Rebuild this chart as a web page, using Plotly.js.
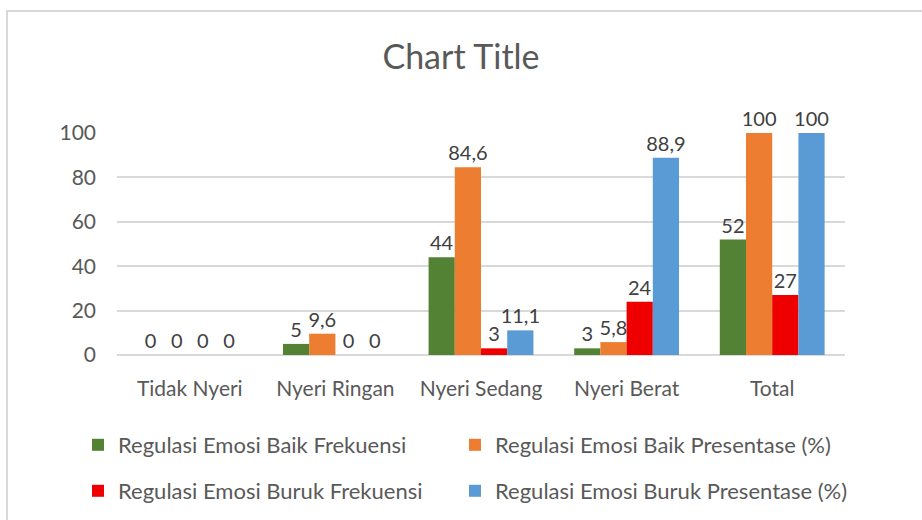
<!DOCTYPE html>
<html><head><meta charset="utf-8">
<script src="https://cdn.plot.ly/plotly-3.0.1.min.js"></script>
<style>
html,body{margin:0;padding:0;background:#fff;overflow:hidden;}
#chart{width:922px;height:520px;position:absolute;left:0;top:0;}
#frame{position:absolute;left:6px;top:10px;width:940px;height:540px;border-left:2px solid #d9d9d9;border-top:2px solid #d9d9d9;pointer-events:none;}
</style></head>
<body>
<div id="chart"></div>
<div id="frame"></div>
<script>
const categories = ["Tidak Nyeri", "Nyeri Ringan", "Nyeri Sedang", "Nyeri Berat", "Total"];
const baikFrekuensi = [0, 5, 44, 3, 52];
const baikPresentase = [0, 9.6, 84.6, 5.8, 100];
const burukFrekuensi = [0, 0, 3, 24, 27];
const burukPresentase = [0, 0, 11.1, 88.9, 100];
const seriesNames = ["Regulasi Emosi Baik Frekuensi", "Regulasi Emosi Baik Presentase (%)", "Regulasi Emosi Buruk Frekuensi", "Regulasi Emosi Buruk Presentase (%)"];
const colors = ["#548235", "#ED7D31", "#EE0000", "#5B9BD5"];
const yTicks = [0, 20, 40, 60, 80, 100];

const fmt = v => String(v).replace('.', ',');
const FONT = "Lato, 'Open Sans', sans-serif";
const allSeries = [baikFrekuensi, baikPresentase, burukFrekuensi, burukPresentase];
const legendIds = ["legend", "legend2", "legend3", "legend4"];
const legendX = [78/922, 455/922, 78/922, 455/922];
const legendY = [1 - 445/520, 1 - 445/520, 1 - 491/520, 1 - 491/520];

const traces = allSeries.map((vals, i) => ({
  type: "bar",
  name: seriesNames[i],
  x: categories,
  y: vals,
  marker: {color: colors[i], line: {width: 0}},
  text: vals.map(fmt),
  textposition: "outside",
  constraintext: "none",
  cliponaxis: false,
  textfont: {family: FONT, size: 20, color: "#404040"},
  legend: legendIds[i],
  hoverinfo: "skip"
}));

const legendBase = {
  orientation: "v",
  xref: "container", yref: "container",
  xanchor: "left",
  yanchor: "middle",
  font: {family: FONT, size: 22, color: "#595959"},
  itemwidth: 30,
  bgcolor: "rgba(0,0,0,0)"
};

const layout = {
  width: 922, height: 520,
  paper_bgcolor: "#fff", plot_bgcolor: "#fff",
  margin: {l: 117, r: 77, t: 133, b: 165, autoexpand: false},
  title: {text: "Chart Title", x: 0.5, xanchor: "center", y: 0.89, yanchor: "middle",
          font: {family: FONT, size: 34, color: "#595959"}},
  barmode: "group",
  bargap: 0.28,
  bargroupgap: 0,
  showlegend: true,
  xaxis: {
    type: "category",
    tickfont: {family: FONT, size: 21, color: "#595959"},
    showline: false, ticks: "", showgrid: false, zeroline: false,
    ticklabelstandoff: 19
  },
  yaxis: {
    range: [0, 100],
    tickvals: yTicks,
    ticktext: yTicks.map(String),
    tickfont: {family: FONT, size: 21, color: "#595959"},
    showgrid: true, gridcolor: "#d9d9d9", gridwidth: 2,
    zeroline: true, zerolinecolor: "#d9d9d9", zerolinewidth: 2,
    showline: false, ticks: "", ticklabelstandoff: 20
  },
  font: {family: FONT}
};
legendIds.forEach((id, i) => {
  layout[id] = Object.assign({}, legendBase, {x: legendX[i], y: legendY[i]});
});

Plotly.newPlot("chart", traces, layout, {displayModeBar: false, staticPlot: true});
</script>
</body></html>
